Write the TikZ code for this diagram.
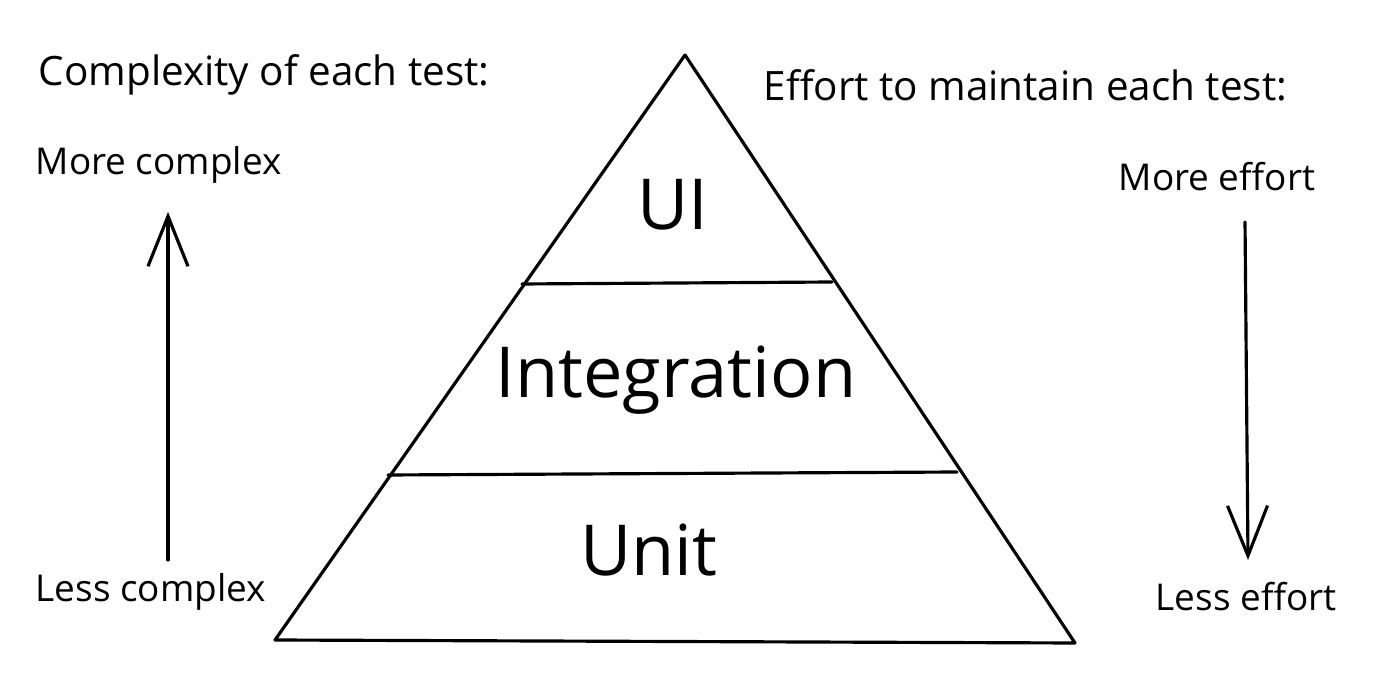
\documentclass[tikz,border=0pt]{standalone}
\usepackage{fontspec}
\setmainfont{Open Sans}
\usetikzlibrary{arrows.meta}

\tikzset{
  small label/.style={font=\fontsize{10.5}{12}\selectfont, anchor=west, inner sep=0pt},
  heading label/.style={small label, font=\fontsize{11.5}{13}\selectfont},
  layer label/.style={font=\fontsize{20}{24}\selectfont, inner sep=0pt},
  pen/.style={line width=0.9pt, line cap=round, line join=round},
  barb/.style={pen, -{Straight Barb[length=5mm, width=4mm, line width=0.9pt]}}
}

\begin{document}
\begin{tikzpicture}[x=0.01cm, y=-0.01cm]
\useasboundingbox (0,0) rectangle (1398,674);

% pyramid corners and layer borders
\coordinate (top) at (685,55);
\coordinate (bl) at (275,640);
\coordinate (br) at (1075,643);
\coordinate (uil) at (522,284);
\coordinate (uir) at (832,282);
\coordinate (intl) at (388,475);
\coordinate (intr) at (957,472);

\draw[pen] (top) -- (bl) -- (br) -- cycle;
\draw[pen] (uil) -- (uir);
\draw[pen] (intl) -- (intr);

% layer names
\node[layer label] (ui) at (673,205) {UI};
\node[layer label] (integration) at (676,380) {Integration};
\node[layer label] (unit) at (649,550) {Unit};

% left side
\node[heading label] (complexity) at (38,75) {Complexity of each test:};
\node[small label] (morecomplex) at (35,165) {More complex};
\node[small label] (lesscomplex) at (35,592) {Less complex};
\draw[barb] (168,560) -- (168,212);

% right side
\node[heading label] (effort) at (763,85) {Effort to maintain each test:};
\node[small label] (moreeffort) at (1118,177) {More effort};
\node[small label] (lesseffort) at (1155,597) {Less effort};
\draw[barb] (1245,222) -- (1248,560);
\end{tikzpicture}
\end{document}
